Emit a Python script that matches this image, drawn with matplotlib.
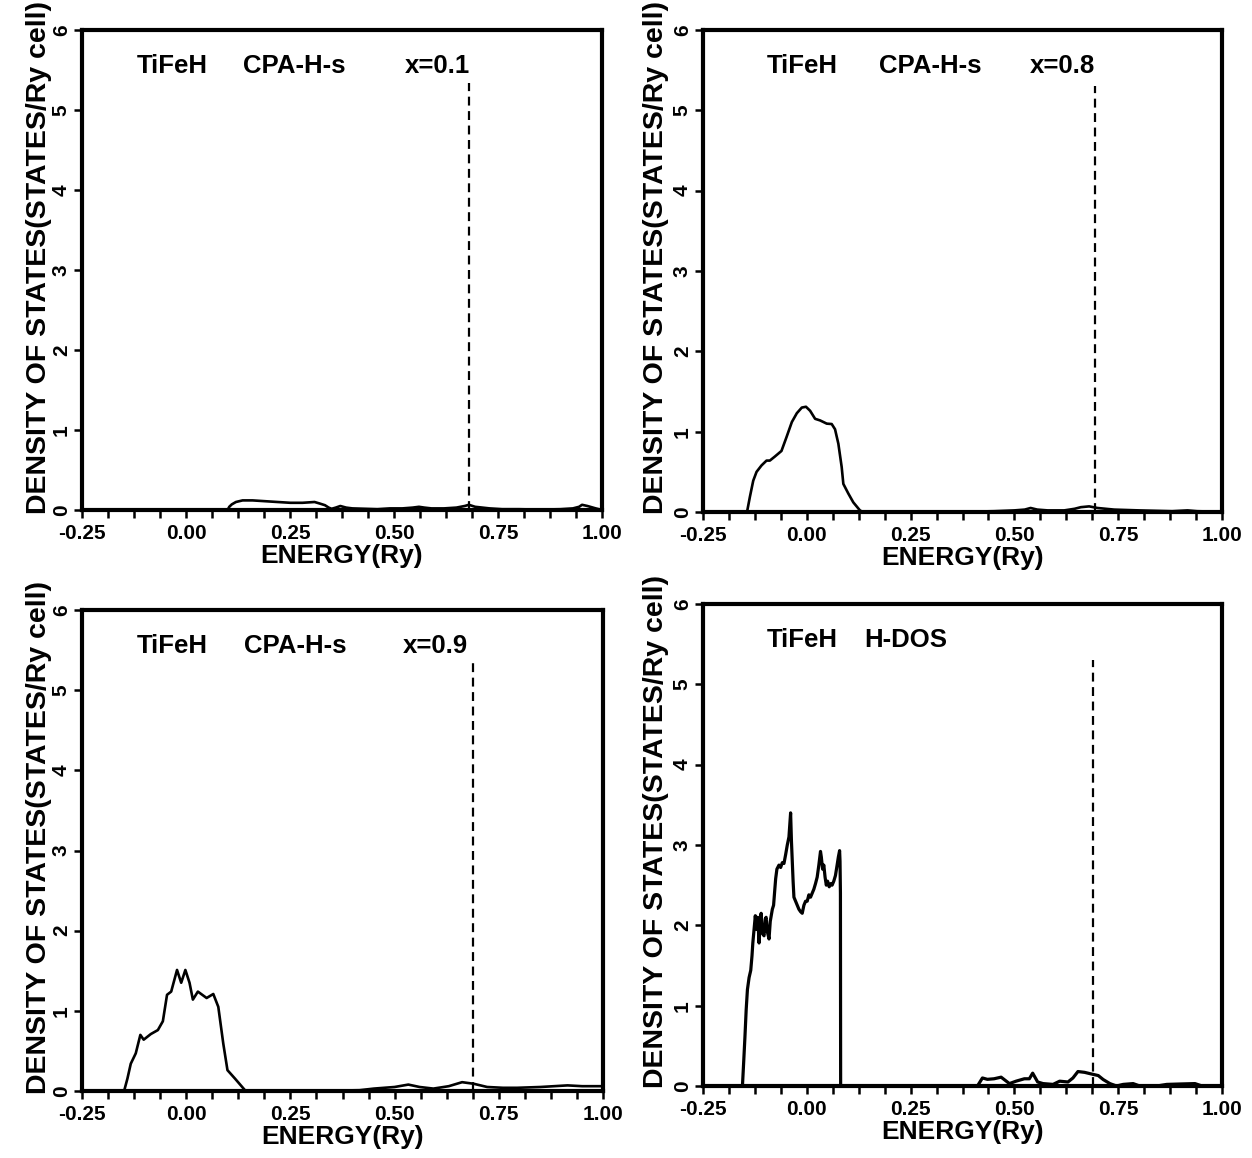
import matplotlib
matplotlib.use('Agg')
import matplotlib.pyplot as plt
from matplotlib.ticker import MultipleLocator, FormatStrFormatter

plt.rcParams['font.family'] = ['Liberation Sans', 'DejaVu Sans']
plt.rcParams['font.weight'] = 'bold'
plt.rcParams['axes.labelweight'] = 'bold'

# ---------------- data ----------------
e_x01 = [-0.25, 0.100, 0.104, 0.110, 0.120, 0.136, 0.160, 0.190, 0.220, 0.251, 0.280, 0.309,
         0.322, 0.334, 0.343, 0.350, 0.360, 0.371, 0.385, 0.400, 0.430, 0.460, 0.490, 0.520,
         0.545, 0.560, 0.573, 0.590, 0.620, 0.650, 0.670, 0.680, 0.695, 0.730, 0.760, 0.800,
         0.850, 0.900, 0.930, 0.945, 0.952, 0.965, 0.985, 1.0]
dos_x01 = [0, 0, 0.04, 0.07, 0.10, 0.12, 0.12, 0.11, 0.10, 0.09, 0.09, 0.10,
           0.08, 0.06, 0.03, 0.015, 0.03, 0.05, 0.03, 0.02, 0.015, 0.01, 0.02, 0.02,
           0.03, 0.04, 0.03, 0.02, 0.02, 0.03, 0.05, 0.065, 0.04, 0.02, 0.01, 0.01,
           0.005, 0.01, 0.02, 0.04, 0.065, 0.05, 0.02, 0.0]

e_x08 = [-0.25, -0.146, -0.144, -0.137, -0.129, -0.121, -0.109, -0.097, -0.089, -0.077, -0.061,
         -0.049, -0.036, -0.024, -0.012, -0.002, 0.008, 0.020, 0.032, 0.048, 0.060, 0.068,
         0.076, 0.084, 0.088, 0.100, 0.112, 0.128, 0.135, 0.20, 0.30, 0.40, 0.45, 0.50,
         0.525, 0.539, 0.555, 0.58, 0.62, 0.645, 0.66, 0.68, 0.70, 0.74, 0.80, 0.88, 0.917,
         0.94, 0.98, 1.0]
dos_x08 = [0, 0, 0.0, 0.19, 0.39, 0.50, 0.58, 0.64, 0.64, 0.69, 0.76,
           0.93, 1.12, 1.23, 1.30, 1.31, 1.26, 1.16, 1.14, 1.10, 1.095, 1.03,
           0.85, 0.56, 0.35, 0.23, 0.12, 0.02, 0, 0, 0, 0.005, 0.01, 0.02,
           0.03, 0.05, 0.03, 0.02, 0.02, 0.04, 0.06, 0.07, 0.05, 0.03, 0.02, 0.01, 0.02,
           0.01, 0.005, 0]

e_x09 = [-0.25, -0.150, -0.149, -0.141, -0.133, -0.121, -0.110, -0.102, -0.085, -0.068, -0.056,
         -0.046, -0.036, -0.022, -0.012, -0.002, 0.008, 0.016, 0.028, 0.049, 0.065, 0.077,
         0.089, 0.099, 0.117, 0.141, 0.15, 0.30, 0.416, 0.45, 0.50, 0.533, 0.56, 0.593,
         0.63, 0.662, 0.69, 0.722, 0.76, 0.794, 0.85, 0.915, 0.95, 0.98, 1.0]
dos_x09 = [0, 0, 0.0, 0.155, 0.34, 0.47, 0.70, 0.64, 0.71, 0.76, 0.87,
           1.20, 1.24, 1.51, 1.35, 1.51, 1.35, 1.14, 1.24, 1.16, 1.21, 1.05,
           0.59, 0.26, 0.155, 0.01, 0, 0, 0.01, 0.03, 0.05, 0.08, 0.05, 0.03,
           0.06, 0.11, 0.09, 0.05, 0.04, 0.04, 0.05, 0.07, 0.06, 0.06, 0.06]

e_hdos = [-0.25, -0.155, -0.152, -0.149, -0.146, -0.143, -0.139, -0.135, -0.132, -0.130, -0.127,
          -0.124, -0.121, -0.118, -0.115, -0.112, -0.110, -0.107, -0.103, -0.100, -0.098,
          -0.095, -0.091, -0.088, -0.083, -0.080, -0.077, -0.075, -0.072, -0.067, -0.063,
          -0.059, -0.055, -0.051, -0.047, -0.043, -0.041, -0.039, -0.037, -0.035, -0.033,
          -0.031, -0.027, -0.023, -0.019, -0.015, -0.011, -0.007, -0.003, 0.001, 0.005,
          0.009, 0.013, 0.017, 0.021, 0.025, 0.029, 0.033, 0.035, 0.038, 0.041, 0.044,
          0.047, 0.050, 0.054, 0.058, 0.061, 0.065, 0.069, 0.073, 0.076, 0.079, 0.080,
          0.081, 0.0815, 0.411, 0.423, 0.435, 0.451, 0.468, 0.488, 0.504, 0.524, 0.536,
          0.544, 0.556, 0.569, 0.593, 0.609, 0.629, 0.641, 0.653, 0.669, 0.685, 0.702,
          0.714, 0.730, 0.746, 0.762, 0.786, 0.802, 0.843, 0.867, 0.899, 0.935, 0.952, 0.988]
dos_hdos = [0, 0, 0.30, 0.61, 0.95, 1.20, 1.35, 1.44, 1.62, 1.78, 1.95,
            2.12, 1.95, 2.10, 1.78, 2.05, 2.15, 1.90, 1.87, 2.08, 2.10,
            1.92, 1.83, 2.05, 2.20, 2.25, 2.45, 2.58, 2.70, 2.75, 2.72,
            2.78, 2.77, 2.88, 3.00, 3.10, 3.25, 3.40, 3.05, 2.80, 2.55,
            2.35, 2.30, 2.25, 2.20, 2.17, 2.15, 2.25, 2.30, 2.30, 2.38,
            2.35, 2.40, 2.45, 2.52, 2.60, 2.75, 2.92, 2.85, 2.70, 2.75, 2.60,
            2.50, 2.55, 2.48, 2.52, 2.50, 2.55, 2.62, 2.75, 2.85, 2.93, 2.80,
            2.40, 0, 0, 0.10, 0.083, 0.09, 0.11, 0.03, 0.06, 0.09, 0.09,
            0.16, 0.05, 0.03, 0.02, 0.06, 0.05, 0.10, 0.18, 0.17, 0.15, 0.13,
            0.08, 0.03, 0.0, 0.02, 0.03, 0.0, 0.0, 0.02, 0.025, 0.03, 0.0, 0.0]

panel_energy = [e_x01, e_x08, e_x09, e_hdos]
panel_dos = [dos_x01, dos_x08, dos_x09, dos_hdos]
panel_words = [["TiFeH", "CPA-H-s", "x=0.1"],
               ["TiFeH", "CPA-H-s", "x=0.8"],
               ["TiFeH", "CPA-H-s", "x=0.9"],
               ["TiFeH", "H-DOS"]]
fermi_energy = [0.68, 0.695, 0.688, 0.69]
fermi_top = [5.34, 5.30, 5.40, 5.30]

x_ticks = [-0.25, 0.00, 0.25, 0.50, 0.75, 1.00]
y_ticks = [0, 1, 2, 3, 4, 5, 6]
xlabel = "ENERGY(Ry)"
ylabel = "DENSITY OF STATES(STATES/Ry cell)"

# ---------------- layout ----------------
W, H = 1252, 1158
fig = plt.figure(figsize=(W / 100, H / 100), dpi=100)
boxes = [(82, 30, 602, 510), (703, 30, 1222, 512), (82, 610, 603, 1091), (703, 604, 1222, 1086)]
word_x = [[0.106, 0.31, 0.62], [0.123, 0.34, 0.63], [0.106, 0.31, 0.615], [0.123, 0.31]]
label_x = [-0.058, -0.066, -0.058, -0.066]
line_w = [1.9, 1.9, 1.9, 2.3]

for i, (l, t, r, b) in enumerate(boxes):
    ax = fig.add_axes([l / W, 1 - b / H, (r - l) / W, (b - t) / H])
    ax.plot(panel_energy[i], panel_dos[i], color='black', lw=line_w[i], solid_joinstyle='round')
    ax.plot([fermi_energy[i], fermi_energy[i]], [0, fermi_top[i]], color='black', lw=1.6,
            linestyle=(0, (4, 2.5)))
    ax.set_xlim(-0.25, 1.0)
    ax.set_ylim(0, 6)
    ax.set_xticks(x_ticks)
    ax.xaxis.set_major_formatter(FormatStrFormatter('%.2f'))
    ax.xaxis.set_minor_locator(MultipleLocator(0.0625))
    ax.set_yticks(y_ticks)
    for s in ax.spines.values():
        s.set_linewidth(3.0)
    ax.tick_params(axis='both', which='both', direction='out', width=1.8, length=6,
                   labelsize=15)
    ax.tick_params(axis='y', labelrotation=90, pad=2)
    ax.tick_params(axis='x', pad=4)
    for lab in ax.get_yticklabels():
        lab.set_va('center')
    ax.set_xlabel(xlabel, fontsize=19, fontweight='bold', labelpad=1)
    ax.set_ylabel(ylabel, fontsize=20.5, fontweight='bold')
    ax.yaxis.set_label_coords(label_x[i], 0.527)
    for wx, w in zip(word_x[i], panel_words[i]):
        ax.text(wx, 0.925, w, transform=ax.transAxes, fontsize=18.5, ha='left', va='center')

fig.savefig('out.png', dpi=100)
